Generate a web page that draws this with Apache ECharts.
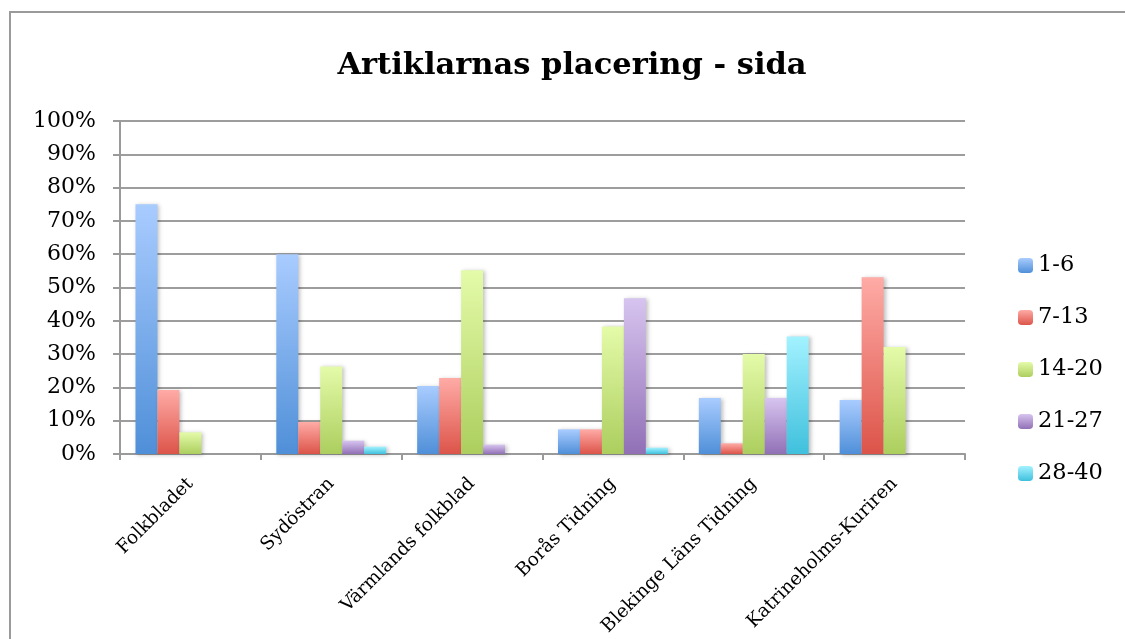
<!DOCTYPE html>
<html>
<head>
<meta charset="utf-8">
<script src="https://cdn.jsdelivr.net/npm/echarts@6/dist/echarts.min.js"></script>
<style>
  html, body { margin: 0; padding: 0; background: #fff; }
  #frame { position: absolute; left: 9px; top: 11px; width: 1116px; height: 628px;
           border-left: 2px solid #9a9a9a; border-top: 2px solid #9a9a9a; }
  #display { position: absolute; left: 0; top: 0; width: 1125px; height: 639px; }
</style>
</head>
<body>
<div id="frame"></div>
<div id="display"></div>
<script>
var categories = ['Folkbladet', 'Sydöstran', 'Värmlands folkblad', 'Borås Tidning', 'Blekinge Läns Tidning', 'Katrineholms-Kuriren'];
var seriesNames = ['1-6', '7-13', '14-20', '21-27', '28-40'];
var sida1to6 = [75, 60, 20.4, 7.4, 16.8, 16.2];
var sida7to13 = [19.2, 9.6, 22.8, 7.4, 3.2, 53.1];
var sida14to20 = [6.5, 26.3, 55.2, 38.3, 30, 32.1];
var sida21to27 = [0, 4, 2.8, 46.8, 16.8, 0];
var sida28to40 = [0, 2.2, 0, 1.9, 35.3, 0];
var yTicks = [0, 10, 20, 30, 40, 50, 60, 70, 80, 90, 100];

// gradient colours, top -> bottom
var palette = [
    ['#a9ccff', '#4f8fd8'],
    ['#ffaba6', '#dc5449'],
    ['#e4fba9', '#acce5e'],
    ['#d7c4ef', '#9170b6'],
    ['#a3f2ff', '#3fc0dd']
];
var allData = [sida1to6, sida7to13, sida14to20, sida21to27, sida28to40];

var chartDom = document.getElementById('display');
var myChart = echarts.init(chartDom);
var serif = '"DejaVu Serif", "Liberation Serif", serif';

var series = seriesNames.map(function (name, i) {
    return {
        name: name,
        type: 'bar',
        data: allData[i],
        barGap: '0%',
        barCategoryGap: '22%',
        itemStyle: {
            color: new echarts.graphic.LinearGradient(0, 0, 0, 1, [
                { offset: 0, color: palette[i][0] },
                { offset: 1, color: palette[i][1] }
            ]),
            shadowBlur: 4,
            shadowColor: 'rgba(0,0,0,0.25)',
            shadowOffsetX: 2,
            shadowOffsetY: 1
        }
    };
});

var option = {
    animation: false,
    title: {
        text: 'Artiklarnas placering - sida',
        left: 567,
        top: 46,
        textAlign: 'center',
        textStyle: { fontFamily: serif, fontWeight: 'bold', fontSize: 30.5, color: '#000' }
    },
    legend: {
        data: seriesNames,
        orient: 'vertical',
        left: 1013,
        top: 249,
        itemWidth: 15,
        itemHeight: 15,
        itemGap: 29,
        textStyle: { fontFamily: serif, fontSize: 22.5, color: '#000' }
    },
    grid: { left: 120, right: 160, top: 121, bottom: 185 },
    xAxis: {
        type: 'category',
        data: categories,
        axisLine: { lineStyle: { color: '#9a9a9a', width: 2 } },
        axisTick: { show: true, length: 6, lineStyle: { color: '#9a9a9a', width: 2 } },
        axisLabel: { rotate: 45, margin: 27, fontFamily: serif, fontSize: 18.5, color: '#000' }
    },
    yAxis: {
        type: 'value',
        min: 0,
        max: 100,
        interval: 10,
        axisLine: { show: true, lineStyle: { color: '#9a9a9a', width: 2 } },
        axisTick: { show: true, length: 7, lineStyle: { color: '#9a9a9a', width: 2 } },
        splitLine: { lineStyle: { color: '#9d9d9d', width: 2 } },
        axisLabel: {
            margin: 24,
            fontFamily: serif,
            fontSize: 22,
            color: '#000',
            formatter: function (v) { return yTicks.indexOf(v) >= 0 ? v + '%' : ''; }
        }
    },
    series: series
};

option && myChart.setOption(option);
</script>
</body>
</html>
